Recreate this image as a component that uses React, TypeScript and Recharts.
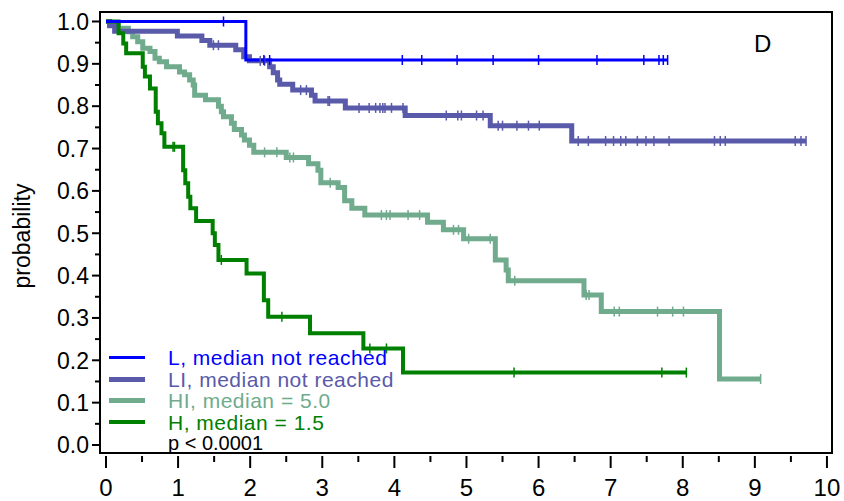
import { LineChart, Line, XAxis, YAxis, ReferenceArea } from "recharts";

// Kaplan-Meier curves, time in years
const X_TICKS = [0, 0.5, 1, 1.5, 2, 2.5, 3, 3.5, 4, 4.5, 5, 5.5, 6, 6.5, 7, 7.5, 8, 8.5, 9, 9.5, 10];
const Y_TICKS = [0, 0.05, 0.1, 0.15, 0.2, 0.25, 0.3, 0.35, 0.4, 0.45, 0.5, 0.55, 0.6, 0.65, 0.7, 0.75, 0.8, 0.85, 0.9, 0.95, 1];

// L
const L_TIME = [0, 1.94];
const L_SURV = [1, 0.909];
const L_CENS = [1.63, 2.19, 2.27, 4.11, 4.38, 4.87, 5.37, 6.0, 6.81, 7.46, 7.67, 7.73, 7.79];

// LI
const LI_TIME = [0, 0.05, 0.12, 0.99, 1.33, 1.44, 1.8, 1.91, 1.99, 2.27, 2.32, 2.38, 2.41, 2.59, 2.85, 2.9, 3.32, 4.15, 5.33, 6.46];
const LI_SURV = [1, 0.99, 0.977, 0.966, 0.955, 0.944, 0.933, 0.917, 0.907, 0.893, 0.879, 0.862, 0.852, 0.838, 0.826, 0.812, 0.796, 0.778, 0.754, 0.718];
const LI_CENS = [1.49, 1.56, 2.14, 2.2, 2.7, 2.78, 3.08, 3.1, 3.51, 3.65, 3.74, 3.8, 3.84, 3.87, 3.96, 4.12, 4.72, 4.88, 4.93, 5.14, 5.23,
  5.44, 5.5, 5.7, 5.86, 6.01, 6.55, 6.69, 6.93, 7.04, 7.14, 7.21, 7.37, 7.49, 7.6, 7.81, 8.44, 8.52, 8.59, 9.56, 9.64, 9.71];

// HI
const HI_TIME = [0, 0.05, 0.17, 0.31, 0.37, 0.44, 0.51, 0.61, 0.68, 0.74, 0.84, 1.02, 1.09, 1.16, 1.21, 1.23, 1.38, 1.56, 1.6, 1.63,
  1.74, 1.78, 1.88, 1.92, 1.99, 2.05, 2.5, 2.81, 2.94, 2.98, 3.22, 3.31, 3.41, 3.59, 4.46, 4.68, 4.96, 5.4, 5.55, 5.58, 6.63, 6.87, 8.51];
const HI_SURV = [1, 0.992, 0.984, 0.976, 0.964, 0.952, 0.937, 0.929, 0.913, 0.905, 0.893, 0.881, 0.874, 0.862, 0.85, 0.826, 0.815, 0.8, 0.787, 0.775,
  0.76, 0.745, 0.732, 0.72, 0.708, 0.691, 0.679, 0.664, 0.649, 0.619, 0.608, 0.577, 0.559, 0.543, 0.526, 0.508, 0.487, 0.437, 0.413, 0.388, 0.354, 0.315, 0.156];
const HI_CENS = [2.2, 2.37, 2.55, 2.6, 3.11, 3.82, 3.89, 3.94, 4.19, 4.35, 4.82, 4.89, 5.03, 5.33, 5.67, 6.66, 6.7, 7.05, 7.12, 7.65, 7.86, 8.01, 9.08];

// H
const H_TIME = [0, 0.175, 0.24, 0.28, 0.51, 0.54, 0.61, 0.69, 0.72, 0.77, 0.81, 1.07, 1.1, 1.14, 1.17, 1.25, 1.48, 1.51, 1.56, 1.95, 2.19, 2.25, 2.83, 3.57, 4.12];
const H_SURV = [1, 0.972, 0.948, 0.925, 0.893, 0.87, 0.842, 0.787, 0.76, 0.736, 0.704, 0.649, 0.618, 0.586, 0.559, 0.529, 0.5, 0.472, 0.437, 0.405, 0.342, 0.303, 0.264, 0.228, 0.171];
const H_CENS = [0.93, 0.95, 1.6, 2.44, 3.66, 3.89, 5.66, 7.71, 8.05];

const FONT = "'Liberation Sans', Arial, sans-serif";

function buildCurve(times: number[], surv: number[], cens: number[]) {
  const pts = times.map((t, i) => ({ t, s: surv[i], c: false }));
  for (const ct of cens) {
    let s = surv[0];
    times.forEach((t, i) => { if (t <= ct) s = surv[i]; });
    pts.push({ t: ct, s, c: true });
  }
  return pts.sort((a, b) => a.t - b.t);
}

const SERIES = [
  { key: "HI", data: buildCurve(HI_TIME, HI_SURV, HI_CENS), color: "#6fab8c", width: 5, label: "HI, median = 5.0" },
  { key: "LI", data: buildCurve(LI_TIME, LI_SURV, LI_CENS), color: "#5a5aaa", width: 5, label: "LI, median not reached" },
  { key: "H", data: buildCurve(H_TIME, H_SURV, H_CENS), color: "#008000", width: 4, label: "H, median = 1.5" },
  { key: "L", data: buildCurve(L_TIME, L_SURV, L_CENS), color: "#0000ff", width: 3, label: "L, median not reached" },
];
const LEGEND_ORDER = ["L", "LI", "HI", "H"];

const censorDot = (color: string) => (props: any) => {
  const { cx, cy, payload, index } = props;
  if (!payload?.c) return <g key={index} />;
  return <line key={index} x1={cx} x2={cx} y1={cy - 5} y2={cy + 5} stroke={color} strokeWidth={1.5} />;
};

const XTick = ({ x, y, payload }: any) => {
  const v = payload.value;
  const major = Number.isInteger(v);
  return (
    <g>
      <line x1={x} x2={x} y1={y + 3} y2={y + (major ? 15 : 9)} stroke="#000" strokeWidth={2} />
      {major && (
        <text x={x} y={y + 43} textAnchor="middle" fontSize={24} fontFamily={FONT} fill="#000">{v}</text>
      )}
    </g>
  );
};

const YTick = ({ x, y, payload }: any) => {
  const v = payload.value;
  const major = Math.round(v * 100) % 10 === 0;
  return (
    <g>
      <line x1={x - (major ? 8 : 5)} x2={x} y1={y} y2={y} stroke="#000" strokeWidth={2} />
      {major && (
        <text x={x - 11} y={y} dy="0.36em" textAnchor="end" fontSize={23} fontFamily={FONT} fill="#000">{v.toFixed(1)}</text>
      )}
    </g>
  );
};

export default function App() {
  return (
    <div style={{ position: "absolute", left: 0, top: 0, width: 844, height: 501, background: "#fff" }}>
      <LineChart width={844} height={501} margin={{ top: 12, right: 12, bottom: 0, left: 0 }}>
        <XAxis
          dataKey="t"
          type="number"
          domain={[-0.083, 10.07]}
          ticks={X_TICKS}
          allowDataOverflow
          height={48}
          axisLine={false}
          tickLine={false}
          tickSize={0}
          tickMargin={0}
          tick={<XTick />}
          interval={0}
        />
        <YAxis
          type="number"
          domain={[-0.0189, 1.0224]}
          ticks={Y_TICKS}
          allowDataOverflow
          width={100}
          axisLine={false}
          tickLine={false}
          tickSize={0}
          tickMargin={0}
          tick={<YTick />}
          interval={0}
          label={() => (
            <text
              x={22}
              y={236}
              transform="rotate(-90 22 236)"
              dy="0.35em"
              textAnchor="middle"
              fontSize={23}
              fontFamily={FONT}
              fill="#000"
            >
              probability
            </text>
          )}
        />
        <ReferenceArea x1={-0.083} x2={10.07} y1={-0.0189} y2={1.0224} fill="none" stroke="#000" strokeWidth={2} ifOverflow="visible" />
        {SERIES.map(s => (
          <Line
            key={s.key}
            data={s.data}
            dataKey="s"
            type="stepAfter"
            stroke={s.color}
            strokeWidth={s.width}
            dot={censorDot(s.color)}
            activeDot={false}
            isAnimationActive={false}
          />
        ))}
      </LineChart>
      {/* legend */}
      <div style={{ position: "absolute", left: 109, top: 347, fontFamily: FONT, fontSize: 21, lineHeight: "21.5px", letterSpacing: 0.5 }}>
        {LEGEND_ORDER.map(k => {
          const s = SERIES.find(d => d.key === k)!;
          return (
            <div key={k} style={{ display: "flex", alignItems: "center", height: 21.5, color: s.color }}>
              <span style={{ display: "inline-block", width: 36, height: s.width, background: s.color, marginRight: 23 }} />
              <span>{s.label}</span>
            </div>
          );
        })}
        <div style={{ marginLeft: 59, color: "#000", fontSize: 20, letterSpacing: 0 }}>p &lt; 0.0001</div>
      </div>
      <div style={{ position: "absolute", left: 754, top: 30, fontFamily: FONT, fontSize: 24, color: "#000" }}>D</div>
    </div>
  );
}
